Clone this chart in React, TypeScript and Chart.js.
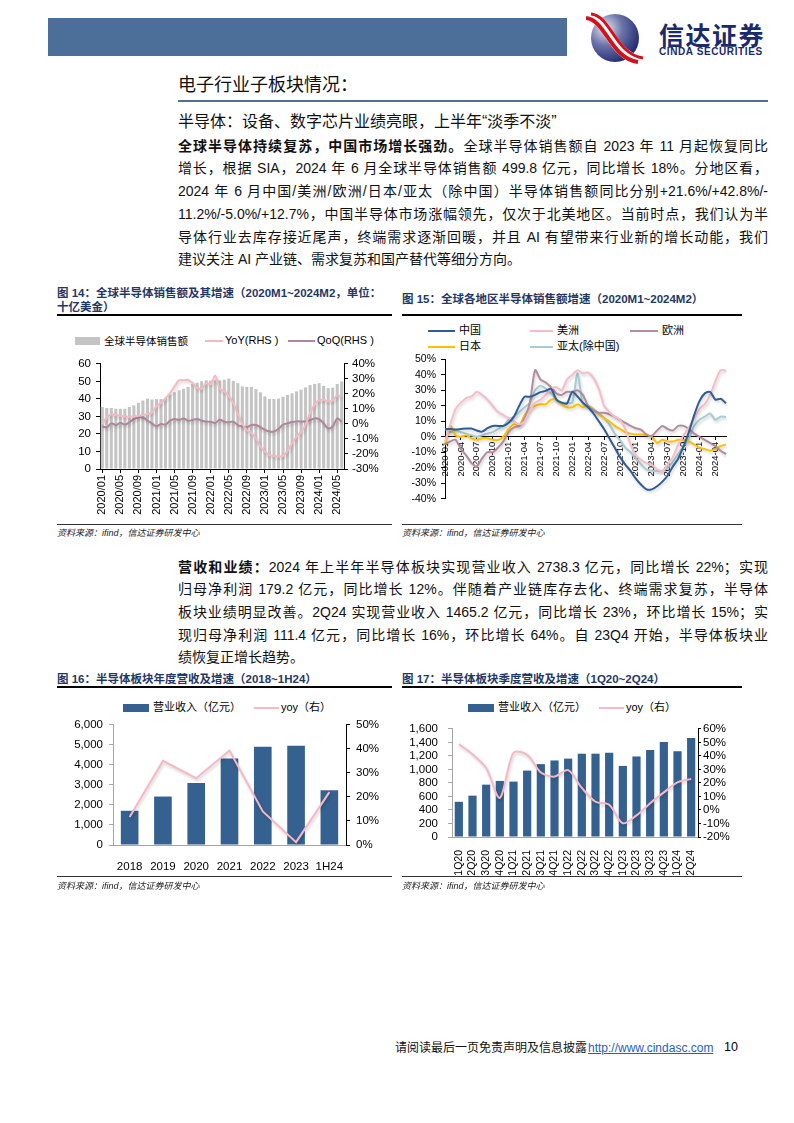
import React, { useEffect, useRef } from 'react';
import { Chart, registerables } from 'chart.js';

Chart.register(...registerables);

const SANS = '"Liberation Sans", Arial, "Noto Sans CJK SC", sans-serif';

// ---------- Figure 14 ----------
const months14 = [
  '2020/01','2020/02','2020/03','2020/04','2020/05','2020/06','2020/07','2020/08','2020/09','2020/10','2020/11','2020/12',
  '2021/01','2021/02','2021/03','2021/04','2021/05','2021/06','2021/07','2021/08','2021/09','2021/10','2021/11','2021/12',
  '2022/01','2022/02','2022/03','2022/04','2022/05','2022/06','2022/07','2022/08','2022/09','2022/10','2022/11','2022/12',
  '2023/01','2023/02','2023/03','2023/04','2023/05','2023/06','2023/07','2023/08','2023/09','2023/10','2023/11','2023/12',
  '2024/01','2024/02','2024/03','2024/04','2024/05','2024/06',
];
const sales14 = [
  35.4, 34.8, 34.8, 34.4, 34.4, 34.4, 35.4, 36.3, 37.8, 39.1, 40.2, 39.7,
  39.9, 39.9, 40.6, 42.5, 43.8, 44.9, 45.8, 46.9, 48.6, 49.3, 50.1, 50.6,
  50.5, 50.6, 50.6, 51.0, 51.6, 50.3, 49.0, 47.1, 46.9, 46.9, 45.6, 43.8,
  41.5, 40.0, 40.0, 40.2, 41.3, 42.3, 43.2, 44.3, 45.3, 46.6, 47.9, 48.6,
  49.0, 47.5, 46.2, 46.5, 48.5, 50.0,
];
const yoy14 = [
  0, 4.3, 6.5, 5.9, 5.4, 5.0, 4.8, 5.0, 5.4, 5.9, 6.5, 7.6,
  12, 14, 17, 20.6, 25, 29, 29.1, 29.3, 27.2, 24, 23.5, 27.2,
  26.5, 32, 23.5, 21.7, 18.5, 14, 6.5, 0, -4.3, -6, -9.8, -15,
  -18.5, -20.7, -21.3, -21.7, -21.3, -17.8, -13, -8.3, -5.4, -0.4, 7.2, 13,
  15.9, 15.9, 15.2, 15.6, 19, 18.3,
];
const qoq14 = [
  -1.7, -2.2, 0.4, -0.7, 0.7, -0.4, 1.1, 3.3, 4.3, 4.3, 2.2, 0.4,
  -1.5, 0, -0.4, 2.2, 3.3, 2.6, 3.7, 2.2, 2.6, 3.3, 2.2, 1.5,
  1.5, 0.7, 2.8, 1.5, 1.1, 1.5, -0.7, -1.7, -2.2, -0.7, -0.7, -2.2,
  -3.9, -5, -5, -3.3, -0.4, 0.4, 1.3, 1.7, 1.7, 1.7, 2.6, 3.7,
  3.2, 0.4, -3.0, -1.7, 3.5, 1.5,
];

// ---------- Figure 15 ----------
const months15 = [
  '2020-01','2020-02','2020-03','2020-04','2020-05','2020-06','2020-07','2020-08','2020-09','2020-10','2020-11','2020-12',
  '2021-01','2021-02','2021-03','2021-04','2021-05','2021-06','2021-07','2021-08','2021-09','2021-10','2021-11','2021-12',
  '2022-01','2022-02','2022-03','2022-04','2022-05','2022-06','2022-07','2022-08','2022-09','2022-10','2022-11','2022-12',
  '2023-01','2023-02','2023-03','2023-04','2023-05','2023-06','2023-07','2023-08','2023-09','2023-10','2023-11','2023-12',
  '2024-01','2024-02','2024-03','2024-04','2024-05','2024-06',
];
const china15 = [
  5, 5, 4.7, 5, 5.3, 5.3, 4, 3.3, 5.5, 7, 7, 7,
  9, 13, 20, 25.8, 25.8, 27, 28.8, 29.6, 31, 24, 22, 21.5,
  29, 26, 22, 19, 15, 10, 5, -1, -7, -13, -18, -22,
  -27, -31, -34, -34, -32, -29, -25, -19, -14, -6, 3, 14,
  23, 28, 29, 24, 24.5, 21.6,
];
const americas15 = [
  -3, 8, 18, 22, 25, 26, 29, 27, 24, 20, 16, 14,
  12, 10, 8, 10, 17, 22, 24, 27, 31, 32, 30, 37,
  40, 43, 41, 41.5, 38, 31, 20, 16, 13, 11, 5, -5,
  -12, -15, -17, -18, -21, -22, -18, -13, -5, 1, 6, 12,
  18, 21, 27, 36, 43, 42.8,
];
const europe15 = [
  -5, -3, -2, -8, -12, -17, -19, -14, -10, -10, -7, -3,
  3, 6, 7, 12, 22, 43, 37, 35, 32, 28, 27, 29,
  29, 30, 27, 20, 17, 15.5, 15.5, 14.5, 13, 11, 9, 7,
  5.5, 4.5, 1.5, 0.5, 4, 7, 5, 4, 7, 7, 5, 2,
  0, -2, -4, -6, -9, -11.2,
];
const japan15 = [
  -5, 7, 1, 0, 1, -1, -2, -1, -1, -2, -2, 0,
  5, 8, 7, 14, 18, 20, 21, 21, 24, 24, 21, 19,
  19, 21, 19, 20, 17, 15, 12, 10, 7, 5, 3, 2,
  1.5, 1.5, 1, 0, -4, -2, -3, -3, -2, -2, -3, -5,
  -7, -8, -9, -8, -6, -5,
];
const apac15 = [
  5, 3, 4, 3, 2, 1, 0, 1, 2, 3, 5, 7,
  11, 13, 16, 19, 22, 30, 33, 31, 28, 24, 22, 22,
  22, 41, 21, 20, 18, 15, 12, 8, 2, -2, -7, -10,
  -14, -18, -21, -22, -22, -22, -20, -16, -11, -6, -1, 7,
  11, 13, 15, 11, 13, 12.7,
];

// ---------- Figure 16 ----------
const years16 = ['2018', '2019', '2020', '2021', '2022', '2023', '1H24'];
const revenue16 = [1709, 2420, 3100, 4320, 4910, 4960, 2738.3];
const yoy16 = [11.7, 35, 27.8, 39.3, 14, 1.2, 22];

// ---------- Figure 17 ----------
const quarters17 = ['1Q20','2Q20','3Q20','4Q20','1Q21','2Q21','3Q21','4Q21','1Q22','2Q22','3Q22','4Q22','1Q23','2Q23','3Q23','4Q23','1Q24','2Q24'];
const revenue17 = [521, 612, 775, 830, 820, 983, 1079, 1133, 1160, 1233, 1233, 1247, 1052, 1192, 1287, 1405, 1269, 1465.2];
const yoy17 = [48.7, 41.3, 31, 9, 42.4, 40.8, 27.7, 24.7, 29.5, 16.3, 6.1, 3.9, -9.8, -4, 5, 13, 20.4, 23];

const PINK = '#F5B9C4';
const MAUVE = '#B0879A';
const BLUE_BAR = '#34618F';

const shadowPlugin = {
  id: 'lineShadow',
  beforeDatasetDraw(chart: any, args: any) {
    if (args.meta.type === 'line') {
      const c = chart.ctx;
      c.save();
      c.shadowColor = 'rgba(0,0,0,0.18)';
      c.shadowBlur = 3;
      c.shadowOffsetX = 1;
      c.shadowOffsetY = 2;
    }
  },
  afterDatasetDraw(chart: any, args: any) {
    if (args.meta.type === 'line') chart.ctx.restore();
  },
};

const f = (size: number) => ({ family: SANS, size });

function make14(): any {
  return {
    type: 'bar',
    data: {
      labels: months14,
      datasets: [
        { type: 'line', label: 'YoY(RHS )', data: yoy14, yAxisID: 'y1', borderColor: PINK, borderWidth: 2, pointRadius: 0, tension: 0.4, order: 0 },
        { type: 'line', label: 'QoQ(RHS )', data: qoq14, yAxisID: 'y1', borderColor: MAUVE, borderWidth: 2, pointRadius: 0, tension: 0.4, order: 1 },
        { type: 'bar', label: '全球半导体销售额', data: sales14, yAxisID: 'y', backgroundColor: '#C4C4C4', barPercentage: 0.68, categoryPercentage: 1, order: 2 },
      ],
    },
    options: {
      animation: false, responsive: false, maintainAspectRatio: false,
      layout: { padding: { top: 10, left: 0, right: 0, bottom: 0 } },
      plugins: { legend: { display: false }, tooltip: { enabled: false } },
      scales: {
        x: {
          grid: { display: true, drawOnChartArea: false, tickLength: 4, color: '#000', offset: false },
          border: { color: '#000' },
          ticks: { autoSkip: false, maxRotation: 90, minRotation: 90, padding: 2, color: '#000', font: f(11),
            callback: (_v: any, i: number) => (i % 4 === 0 ? months14[i] : null) },
          afterFit: (s: any) => { s.height = 53; },
        },
        y: {
          position: 'left', min: 0, max: 60,
          ticks: { autoSkip: false, stepSize: 10, color: '#000', font: f(11.5), padding: 5 },
          grid: { drawOnChartArea: false, tickLength: 4, color: '#000' },
          border: { color: '#000' },
          afterFit: (s: any) => { s.width = 43; },
        },
        y1: {
          position: 'right', min: -30, max: 40,
          ticks: { autoSkip: false, stepSize: 10, color: '#000', font: f(11.5), padding: 4, callback: (v: any) => v + '%' },
          grid: { drawOnChartArea: false, tickLength: 4, color: '#000' },
          border: { color: '#000' },
          afterFit: (s: any) => { s.width = 53; },
        },
      },
    },
    plugins: [shadowPlugin],
  };
}

function make15(): any {
  const line = (label: string, data: number[], color: string) => ({
    label, data, borderColor: color, borderWidth: 2, pointRadius: 0, tension: 0.25,
  });
  return {
    type: 'line',
    data: {
      labels: months15,
      datasets: [
        line('中国', china15, '#2F5C93'),
        line('美洲', americas15, '#F6BDC8'),
        line('欧洲', europe15, '#B38C9D'),
        line('日本', japan15, '#FFC000'),
        line('亚太(除中国)', apac15, '#A6CDD4'),
      ],
    },
    options: {
      animation: false, responsive: false, maintainAspectRatio: false,
      layout: { padding: { top: 7, left: 0, right: 14, bottom: 5 } },
      plugins: { legend: { display: false }, tooltip: { enabled: false } },
      scales: {
        x: {
          position: { y: 0 },
          grid: { display: true, drawOnChartArea: false, tickLength: 3, color: '#000' },
          border: { color: '#000' },
          ticks: { autoSkip: false, maxRotation: 90, minRotation: 90, padding: 2, color: '#000', font: f(9.5),
            callback: (_v: any, i: number) => (i % 3 === 0 ? months15[i] : null) },
        },
        y: {
          min: -40, max: 50,
          ticks: { autoSkip: false, stepSize: 10, color: '#000', font: f(10.5), padding: 5, callback: (v: any) => v + '%' },
          grid: { drawOnChartArea: false, tickLength: 4, color: '#000' },
          border: { color: '#000' },
          afterFit: (s: any) => { s.width = 45; },
        },
      },
    },
    plugins: [shadowPlugin],
  };
}

function make16(): any {
  return {
    type: 'bar',
    data: {
      labels: years16,
      datasets: [
        { type: 'line', label: 'yoy（右）', data: yoy16, yAxisID: 'y1', borderColor: PINK, borderWidth: 2, pointRadius: 0, tension: 0, order: 0 },
        { type: 'bar', label: '营业收入（亿元）', data: revenue16, yAxisID: 'y', backgroundColor: BLUE_BAR, barPercentage: 0.53, categoryPercentage: 1, order: 1 },
      ],
    },
    options: {
      animation: false, responsive: false, maintainAspectRatio: false,
      layout: { padding: { top: 7, left: 0, right: 0, bottom: 0 } },
      plugins: { legend: { display: false }, tooltip: { enabled: false } },
      scales: {
        x: {
          grid: { display: false },
          border: { display: true, color: '#A6A6A6' },
          ticks: { autoSkip: false, maxRotation: 0, minRotation: 0, color: '#000', font: f(11.5), padding: 7 },
          afterFit: (s: any) => { s.height = 32; },
        },
        y: {
          position: 'left', min: 0, max: 6000,
          ticks: { autoSkip: false, stepSize: 1000, color: '#000', font: f(11.5), padding: 6, callback: (v: any) => Number(v).toLocaleString('en-US') },
          grid: { drawOnChartArea: false, tickLength: 4, color: '#A6A6A6' },
          border: { color: '#A6A6A6' },
          afterFit: (s: any) => { s.width = 56; },
        },
        y1: {
          position: 'right', min: 0, max: 50,
          ticks: { autoSkip: false, stepSize: 10, color: '#000', font: f(11.5), padding: 6, callback: (v: any) => v + '%' },
          grid: { drawOnChartArea: false, tickLength: 4, color: '#000' },
          border: { color: '#000' },
          afterFit: (s: any) => { s.width = 46; },
        },
      },
    },
    plugins: [shadowPlugin],
  };
}

function make17(): any {
  return {
    type: 'bar',
    data: {
      labels: quarters17,
      datasets: [
        { type: 'line', label: 'yoy（右）', data: yoy17, yAxisID: 'y1', borderColor: PINK, borderWidth: 2, pointRadius: 0, tension: 0.3, order: 0 },
        { type: 'bar', label: '营业收入（亿元）', data: revenue17, yAxisID: 'y', backgroundColor: BLUE_BAR, barPercentage: 0.6, categoryPercentage: 1, order: 1 },
      ],
    },
    options: {
      animation: false, responsive: false, maintainAspectRatio: false,
      layout: { padding: { top: 7, left: 0, right: 0, bottom: 0 } },
      plugins: { legend: { display: false }, tooltip: { enabled: false } },
      scales: {
        x: {
          grid: { display: false },
          border: { display: true, color: '#A6A6A6' },
          ticks: { autoSkip: false, maxRotation: 90, minRotation: 90, color: '#000', font: f(10.5), padding: 5 },
          afterFit: (s: any) => { s.height = 45; },
        },
        y: {
          position: 'left', min: 0, max: 1600,
          ticks: { autoSkip: false, stepSize: 200, color: '#000', font: f(11.5), padding: 10, callback: (v: any) => Number(v).toLocaleString('en-US') },
          grid: { drawOnChartArea: false, tickLength: 4, color: '#A6A6A6' },
          border: { color: '#A6A6A6' },
          afterFit: (s: any) => { s.width = 50; },
        },
        y1: {
          position: 'right', min: -20, max: 60,
          ticks: { autoSkip: false, stepSize: 10, color: '#000', font: f(11.5), padding: 2, callback: (v: any) => v + '%' },
          grid: { drawOnChartArea: false, tickLength: 3, color: '#000' },
          border: { color: '#000' },
          afterFit: (s: any) => { s.width = 42; },
        },
      },
    },
    plugins: [shadowPlugin],
  };
}

function ChartCanvas({ x, y, w, h, make }: { x: number; y: number; w: number; h: number; make: () => any }) {
  const ref = useRef<HTMLCanvasElement>(null);
  useEffect(() => {
    const chart = new Chart(ref.current as HTMLCanvasElement, make());
    return () => chart.destroy();
  }, []);
  return <canvas ref={ref} width={w} height={h} style={{ position: 'absolute', left: x, top: y, width: w, height: h }} />;
}

function Txt({ x, y, size, children, style }: { x: number; y: number; size: number; children: any; style?: any }) {
  return (
    <div style={{ position: 'absolute', left: x, top: y - size * 0.7, fontSize: size, lineHeight: `${size * 1.4}px`, whiteSpace: 'nowrap', ...style }}>
      {children}
    </div>
  );
}

function Box({ x, y, w, h, bg }: { x: number; y: number; w: number; h: number; bg: string }) {
  return <div style={{ position: 'absolute', left: x, top: y, width: w, height: h, background: bg }} />;
}

function JLine({ y, children, last }: { y: number; children: any; last?: boolean }) {
  return (
    <div style={{ position: 'absolute', left: 178, top: y - 11, width: 590, height: 22, lineHeight: '22px', fontSize: 14, color: '#111',
      textAlign: 'justify', textAlignLast: last ? 'left' : 'justify', whiteSpace: 'nowrap' } as any}>
      {children}
    </div>
  );
}

const NAVY = '#1F3864';

function FigTitle({ x, y, children }: { x: number; y: number; children: any }) {
  return <Txt x={x} y={y} size={11.5} style={{ fontWeight: 700, color: NAVY }}>{children}</Txt>;
}

function Source({ x, y }: { x: number; y: number }) {
  return <Txt x={x} y={y} size={9} style={{ fontStyle: 'italic', color: '#222' }}>资料来源：ifind，信达证券研发中心</Txt>;
}

function LegLine({ x, y, w, color }: { x: number; y: number; w: number; color: string }) {
  return <div style={{ position: 'absolute', left: x, top: y - 1, width: w, height: 2, background: color }} />;
}

export default function App() {
  return (
    <div style={{ position: 'absolute', left: 0, top: 0, width: 794, height: 1123, background: '#fff', fontFamily: SANS, color: '#000', overflow: 'hidden' }}>
      {/* header */}
      <Box x={48} y={18} w={519} h={38} bg="#4B6F99" />
      <svg style={{ position: 'absolute', left: 586, top: 12 }} width={60} height={52} viewBox="0 0 60 52">
        <defs>
          <radialGradient id="lg" cx="0.3" cy="0.3" r="0.8">
            <stop offset="0" stopColor="#E8E8F4" />
            <stop offset="0.45" stopColor="#6A73A8" />
            <stop offset="1" stopColor="#1A236B" />
          </radialGradient>
        </defs>
        <circle cx={29} cy={26} r={24} fill="url(#lg)" />
        <path d="M2 4 C 22 6, 26 44, 54 48" stroke="#fff" strokeWidth={10} fill="none" />
        <path d="M2 4 C 22 6, 26 44, 54 48" stroke="#D2121B" strokeWidth={4} fill="none" transform="translate(-2,2)" />
        <path d="M2 4 C 22 6, 26 44, 54 48" stroke="#D2121B" strokeWidth={3} fill="none" transform="translate(3,-2)" />
      </svg>
      <Txt x={659} y={34} size={25} style={{ fontWeight: 700, color: '#1A2A6C', fontFamily: '"Noto Sans CJK SC", sans-serif', letterSpacing: 1.5 }}>信达证券</Txt>
      <Txt x={659} y={52} size={10} style={{ fontWeight: 700, color: '#1A2A6C', letterSpacing: 0.6 }}>CINDA SECURITIES</Txt>

      {/* section title */}
      <Txt x={178} y={86} size={18} style={{ color: '#111' }}>电子行业子板块情况：</Txt>
      <Box x={178} y={100} w={590} h={1.5} bg="#4B6F99" />
      <Txt x={178} y={122} size={16} style={{ color: '#111' }}>半导体：设备、数字芯片业绩亮眼，上半年“淡季不淡”</Txt>

      <JLine y={146}><b>全球半导体持续复苏，中国市场增长强劲。</b>全球半导体销售额自 2023 年 11 月起恢复同比</JLine>
      <JLine y={168}>增长，根据 SIA，2024 年 6 月全球半导体销售额 499.8 亿元，同比增长 18%。分地区看，</JLine>
      <JLine y={191}>2024 年 6 月中国/美洲/欧洲/日本/亚太（除中国）半导体销售额同比分别+21.6%/+42.8%/-</JLine>
      <JLine y={214}>11.2%/-5.0%/+12.7%，中国半导体市场涨幅领先，仅次于北美地区。当前时点，我们认为半</JLine>
      <JLine y={237}>导体行业去库存接近尾声，终端需求逐渐回暖，并且 AI 有望带来行业新的增长动能，我们</JLine>
      <JLine y={259} last>建议关注 AI 产业链、需求复苏和国产替代等细分方向。</JLine>

      {/* figure 14 */}
      <FigTitle x={57} y={293}>图 14：全球半导体销售额及其增速（2020M1~2024M2，单位：</FigTitle>
      <FigTitle x={57} y={307}>十亿美金）</FigTitle>
      <Box x={57} y={314} w={335} h={1.5} bg="#000" />
      <Box x={75} y={337} w={25} h={8} bg="#C4C4C4" />
      <Txt x={104} y={341} size={10.5}>全球半导体销售额</Txt>
      <LegLine x={205} y={341} w={18} color={PINK} />
      <Txt x={225} y={341} size={11}>YoY(RHS )</Txt>
      <LegLine x={288} y={341} w={27} color={MAUVE} />
      <Txt x={317} y={341} size={11}>QoQ(RHS )</Txt>
      <ChartCanvas x={57} y={352} w={340} h={170} make={make14} />
      <Box x={57} y={524} w={335} h={1} bg="#333" />
      <Source x={57} y={533} />

      {/* figure 15 */}
      <FigTitle x={402} y={299}>图 15：全球各地区半导体销售额增速（2020M1~2024M2）</FigTitle>
      <Box x={402} y={314} w={340} h={1.5} bg="#000" />
      <LegLine x={428} y={331} w={27} color="#2F5C93" />
      <Txt x={459} y={331} size={11}>中国</Txt>
      <LegLine x={530} y={331} w={23} color="#F6BDC8" />
      <Txt x={557} y={331} size={11}>美洲</Txt>
      <LegLine x={630} y={331} w={28} color="#B38C9D" />
      <Txt x={662} y={331} size={11}>欧洲</Txt>
      <LegLine x={428} y={347} w={27} color="#FFC000" />
      <Txt x={459} y={347} size={11}>日本</Txt>
      <LegLine x={530} y={347} w={23} color="#A6CDD4" />
      <Txt x={557} y={347} size={11}>亚太(除中国)</Txt>
      <ChartCanvas x={400} y={348} w={340} h={162} make={make15} />
      <Box x={402} y={524} w={340} h={1} bg="#333" />
      <Source x={402} y={533} />

      {/* paragraph 2 */}
      <JLine y={567}><b>营收和业绩：</b>2024 年上半年半导体板块实现营业收入 2738.3 亿元，同比增长 22%；实现</JLine>
      <JLine y={589}>归母净利润 179.2 亿元，同比增长 12%。伴随着产业链库存去化、终端需求复苏，半导体</JLine>
      <JLine y={612}>板块业绩明显改善。2Q24 实现营业收入 1465.2 亿元，同比增长 23%，环比增长 15%；实</JLine>
      <JLine y={635}>现归母净利润 111.4 亿元，同比增长 16%，环比增长 64%。自 23Q4 开始，半导体板块业</JLine>
      <JLine y={657} last>绩恢复正增长趋势。</JLine>

      {/* figure 16 */}
      <FigTitle x={57} y={679}>图 16：半导体板块年度营收及增速（2018~1H24）</FigTitle>
      <Box x={57} y={686} w={335} h={1.5} bg="#000" />
      <Box x={123} y={704} w={26} h={8} bg={BLUE_BAR} />
      <Txt x={153} y={708} size={11}>营业收入（亿元）</Txt>
      <LegLine x={254} y={708} w={25} color={PINK} />
      <Txt x={281} y={708} size={11}>yoy（右）</Txt>
      <ChartCanvas x={57} y={712} w={335} h={165} make={make16} />
      <Box x={57} y={876} w={335} h={1} bg="#333" />
      <Source x={57} y={886} />

      {/* figure 17 */}
      <FigTitle x={402} y={679}>图 17：半导体板块季度营收及增速（1Q20~2Q24）</FigTitle>
      <Box x={402} y={686} w={340} h={1.5} bg="#000" />
      <Box x={468} y={704} w={26} h={8} bg={BLUE_BAR} />
      <Txt x={498} y={708} size={11}>营业收入（亿元）</Txt>
      <LegLine x={599} y={708} w={25} color={PINK} />
      <Txt x={626} y={708} size={11}>yoy（右）</Txt>
      <ChartCanvas x={402} y={712} w={338} h={170} make={make17} />
      <Box x={402} y={876} w={340} h={1} bg="#333" />
      <Source x={402} y={886} />

      {/* footer */}
      <Txt x={395} y={1048} size={12} style={{ color: '#111' }}>请阅读最后一页免责声明及信息披露</Txt>
      <Txt x={588} y={1048} size={12} style={{ color: '#1F5FBF', textDecoration: 'underline' }}>http://www.cindasc.com</Txt>
      <Txt x={724} y={1048} size={12.5}>10</Txt>
    </div>
  );
}
